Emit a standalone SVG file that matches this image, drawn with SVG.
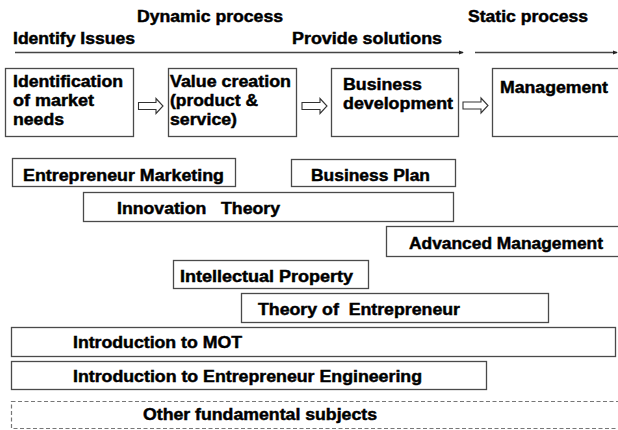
<svg xmlns="http://www.w3.org/2000/svg" width="618" height="430" viewBox="0 0 618 430">
<defs>
<style>
text{font-family:"Liberation Sans",Arial,sans-serif;font-weight:bold;font-size:16px;fill:#000;stroke:#000;stroke-width:0.45}
.box{fill:#fff;stroke:#4a4a4a;stroke-width:1.3}
.dash{fill:#fff;stroke:#777;stroke-width:1.2;stroke-dasharray:4 2.5}
.flow{fill:none;stroke:#444;stroke-width:1.3}
.barrow{fill:#fff;stroke:#333;stroke-width:1.1}
</style>
<marker id="ah" viewBox="0 0 6 6" refX="5" refY="3" markerWidth="5" markerHeight="5" markerUnits="userSpaceOnUse" orient="auto">
<path d="M0,0.5 L6,3 L0,5.5 z" fill="#222"/>
</marker>
</defs>
<rect width="618" height="430" fill="#fff"/>

<g id="headers">
<text x="137" y="22" textLength="146" lengthAdjust="spacingAndGlyphs">Dynamic process</text>
<text x="468" y="22" textLength="120" lengthAdjust="spacingAndGlyphs">Static process</text>
<text x="13" y="44" textLength="122" lengthAdjust="spacingAndGlyphs">Identify Issues</text>
<text x="292" y="44" textLength="150" lengthAdjust="spacingAndGlyphs">Provide solutions</text>
</g>

<g id="connectors">
<line class="flow" x1="15" y1="52.5" x2="463" y2="52.5" marker-end="url(#ah)"/>
<line class="flow" x1="475" y1="52.5" x2="617" y2="52.5" marker-end="url(#ah)"/>
<path class="barrow" d="M138.5,102.5 H156 V98.5 L163,106 L156,113.5 V109.5 H138.5 z"/>
<path class="barrow" d="M302,102.5 H320 V98.5 L327,106 L320,113.5 V109.5 H302 z"/>
<path class="barrow" d="M463,102 H481 V98 L488,105.5 L481,113 V109 H463 z"/>
</g>

<g id="n-identification">
<rect class="box" x="5.5" y="68.5" width="128" height="68"/>
<text x="13" y="87" textLength="110" lengthAdjust="spacingAndGlyphs">Identification</text>
<text x="13" y="106" textLength="81" lengthAdjust="spacingAndGlyphs">of market</text>
<text x="13" y="125" textLength="51" lengthAdjust="spacingAndGlyphs">needs</text>
</g>

<g id="n-value">
<rect class="box" x="168.5" y="68.5" width="128" height="68"/>
<text x="170" y="87" textLength="121" lengthAdjust="spacingAndGlyphs">Value creation</text>
<text x="170" y="106" textLength="88" lengthAdjust="spacingAndGlyphs">(product &amp;</text>
<text x="170" y="125" textLength="67" lengthAdjust="spacingAndGlyphs">service)</text>
</g>

<g id="n-business">
<rect class="box" x="331.5" y="68.5" width="127" height="68"/>
<text x="343" y="90" textLength="79" lengthAdjust="spacingAndGlyphs">Business</text>
<text x="343" y="109" textLength="110" lengthAdjust="spacingAndGlyphs">development</text>
</g>

<g id="n-management">
<rect class="box" x="492.5" y="68.5" width="140" height="68"/>
<text x="500" y="93" textLength="108" lengthAdjust="spacingAndGlyphs">Management</text>
</g>

<g id="n-ent-marketing">
<rect class="box" x="12.5" y="158.5" width="223" height="28"/>
<text x="23" y="181" textLength="201" lengthAdjust="spacingAndGlyphs">Entrepreneur Marketing</text>
</g>

<g id="n-business-plan">
<rect class="box" x="291.5" y="159.5" width="164" height="27"/>
<text x="311" y="181" textLength="119" lengthAdjust="spacingAndGlyphs">Business Plan</text>
</g>

<g id="n-innovation">
<rect class="box" x="83.5" y="192.5" width="370" height="29"/>
<text x="117" y="214" textLength="163" lengthAdjust="spacingAndGlyphs" xml:space="preserve">Innovation   Theory</text>
</g>

<g id="n-advanced">
<rect class="box" x="386.5" y="226.5" width="240" height="30"/>
<text x="409" y="249" textLength="194" lengthAdjust="spacingAndGlyphs">Advanced Management</text>
</g>

<g id="n-ip">
<rect class="box" x="173.5" y="260.5" width="195" height="28"/>
<text x="180" y="282" textLength="173" lengthAdjust="spacingAndGlyphs">Intellectual Property</text>
</g>

<g id="n-theory-ent">
<rect class="box" x="241.5" y="293.5" width="307" height="29"/>
<text x="258" y="315" textLength="202" lengthAdjust="spacingAndGlyphs" xml:space="preserve">Theory of  Entrepreneur</text>
</g>

<g id="n-mot">
<rect class="box" x="11.5" y="327.5" width="604" height="29"/>
<text x="73" y="348" textLength="169" lengthAdjust="spacingAndGlyphs">Introduction to MOT</text>
</g>

<g id="n-ent-eng">
<rect class="box" x="11.5" y="361.5" width="475" height="28"/>
<text x="73" y="382" textLength="349" lengthAdjust="spacingAndGlyphs">Introduction to Entrepreneur Engineering</text>
</g>

<g id="n-other">
<rect class="dash" x="11.5" y="401.5" width="620" height="27"/>
<text x="143" y="420" textLength="234" lengthAdjust="spacingAndGlyphs">Other fundamental subjects</text>
</g>
</svg>
